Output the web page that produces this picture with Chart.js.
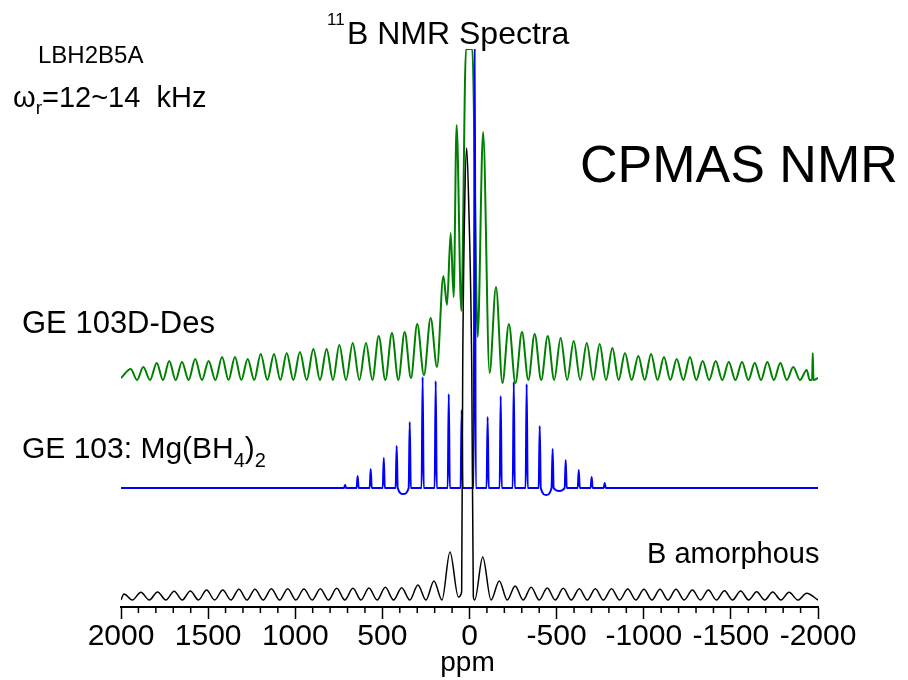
<!DOCTYPE html>
<html>
<head>
<meta charset="utf-8">
<script src="https://cdn.jsdelivr.net/npm/chart.js@4.4.1/dist/chart.umd.min.js"></script>
<style>
  body { margin: 0; background: #fff; }
</style>
</head>
<body>
<canvas id="grafico" width="908" height="680"></canvas>
<script>
// Fonte usada em todos os textos
const fonte = '"Liberation Sans", Arial, Helvetica, sans-serif';

// Eixo de deslocamento químico (ppm), invertido: 2000 à esquerda
const ppmEsquerda = 2000;
const ppmDireita = -2000;
const marcasPrincipais = [2000, 1500, 1000, 500, 0, -500, -1000, -1500, -2000];
const rotulosMarcas = ['2000', '1500', '1000', '500', '0', '-500', '-1000', '-1500', '-2000'];

// Intensidade: escala arbitrária, 0 na linha do eixo, 558 no topo (o que passa é cortado)
const intensidadeMax = 558;

///////////////////////////////////////////////////////////////////////////////
// B amorphous (preto) - bandas laterais largas
const pretoBase = 7;
const pretoPicosPpm = [1983, 1886, 1790, 1695, 1602, 1509, 1416, 1323, 1231, 1137, 1043,
  950, 856, 762, 669, 577, 483, 389, 296, 204, 112, 16, -76, -171, -262, -354, -446,
  -538, -630, -722, -815, -908, -1001, -1093, -1185, -1279, -1371, -1463, -1556, -1648,
  -1740, -1834, -1935];
const pretoPicosAltura = [6, 7.7, 8, 8.7, 9, 10, 10, 10.7, 10.7, 11.3, 11.3,
  11, 11.3, 11.7, 11.7, 12, 12.7, 12.3, 15, 19, 48, 452, 43, 19, 14, 12.7, 12,
  11.7, 11.3, 11.3, 11.3, 11, 10.7, 10.7, 10.7, 10, 10, 9.3, 9, 8.3,
  8, 7.7, 6.7];
// vales entre os picos (o primeiro e o último são as pontas do espectro)
const pretoVales = [0, 0, 0, 0, 0, 0, 0, 0, 0, 0, 0,
  0, 0, 0, 0, 0, 0, 0, 0, 0, 0, 3, 0, 0, 0, 0, 0,
  0, 0, 0, 0, 0, 0, 0, 0, 0, 0, 0, 0, 0,
  0, 0, 0, 0];
// flancos do pico central (estreito)
const pretoCentroPpm = [45, 39, 27, 5, -13, -22];
const pretoCentroAltura = [8, 230, 400, 400, 230, 3];

///////////////////////////////////////////////////////////////////////////////
// GE 103: Mg(BH4)2 (azul) - linhas finas
const azulBase = 119;
const azulPicosPpm = [714, 642, 567, 492, 418, 343, 269, 194, 119, 45, -30,
  -104, -179, -254, -328, -403, -477, -552, -627, -701, -776];
const azulPicosAltura = [3, 12, 19, 30, 42, 66, 111, 107, 94, 78, 460,
  71, 92, 106, 104, 62, 39, 28, 18, 11, 5];
const azulVales = [0, 0, 0, 0, 0, -6, 0, 0, 0, 0, 0,
  0, 0, 0, 0, 0, -7, -3, 0, 0, 0, 0];
const azulMeiaLargura = 6; // ppm

///////////////////////////////////////////////////////////////////////////////
// GE 103D-Des (verde) - pico central cortado no topo
const verdeBase = 227;
const verdePicosPpm = [1944, 1872, 1795, 1723, 1650, 1574, 1497, 1420, 1346, 1273,
  1198, 1122, 1049, 973, 896, 820, 747, 670, 594, 521, 445, 372, 300, 223,
  150, 108, 74, 20, -16, -78, -152, -226, -301, -374, -449, -523, -598, -673,
  -747, -820, -892, -969, -1042, -1116, -1189, -1265, -1338, -1413, -1488,
  -1564, -1637, -1709, -1784, -1858, -1935, -1970];
const verdePicosAltura = [11, 13, 17, 19, 18, 21, 19, 23, 23, 21,
  26, 26, 27, 28, 31, 31, 35, 37, 37, 44, 47, 48, 56, 62,
  104, 147, 255, 331, 331, 248, 93, 56, 48, 46, 44, 42, 39, 37,
  36, 32, 27, 24, 26, 23, 21, 23, 19, 19, 18,
  18, 17, 18, 17, 13, 10, 27];
const verdeVales = [2, 0, 0, 0, 0, 0, 0, 0, 0, 0,
  0, 0, 0, 0, 0, 0, 0, 0, 0, 0, 0, 0, 2, 5,
  13, 75, 83, 69, 331, 43, 7, -3, -3, 0, 0, 0, 0, 0,
  0, 0, 0, 0, 0, 0, 0, 0, 0, 0, 0,
  0, 0, 0, 0, 0, 0, 0, 2];
// base da espícula estreita na ponta direita
const verdeEspiculaPpm = [-1966, -1974];
const verdeEspiculaAltura = [0, 0];

///////////////////////////////////////////////////////////////////////////////

// monta a lista de pontos {x, y}: picos, vales entre picos e pontos extras
// (picos estreitos ganham dois pontos de base na linha base do espectro)
function montarEspectro(picosPpm, alturas, vales, base, meiaLargura, extrasPpm, extrasAltura) {
  const pontos = [{ x: ppmEsquerda, y: base + vales[0] }];
  for (let i = 0; i < picosPpm.length; i++) {
    const p = picosPpm[i];
    if (meiaLargura) pontos.push({ x: p + meiaLargura, y: base });
    pontos.push({ x: p, y: base + alturas[i] });
    if (meiaLargura) pontos.push({ x: p - meiaLargura, y: base });
    if (i < picosPpm.length - 1) {
      pontos.push({ x: (p + picosPpm[i + 1]) / 2, y: base + vales[i + 1] });
    }
  }
  pontos.push({ x: ppmDireita, y: base + vales[picosPpm.length] });
  (extrasPpm || []).forEach((p, k) => pontos.push({ x: p, y: base + extrasAltura[k] }));
  pontos.sort((a, b) => b.x - a.x);
  return pontos;
}

const pontosPreto = montarEspectro(pretoPicosPpm, pretoPicosAltura, pretoVales, pretoBase, 0,
  pretoCentroPpm, pretoCentroAltura);
const pontosAzul = montarEspectro(azulPicosPpm, azulPicosAltura, azulVales, azulBase, azulMeiaLargura);
const pontosVerde = montarEspectro(verdePicosPpm, verdePicosAltura, verdeVales, verdeBase, 0,
  verdeEspiculaPpm, verdeEspiculaAltura);

// marcas menores a cada 100 ppm
const marcasMenores = [];
for (let i = 0; i < marcasPrincipais.length - 1; i++) {
  for (let k = 1; k < 5; k++) marcasMenores.push(marcasPrincipais[i] - k * 100);
}

function escreve(ctx, texto, x, y, tamanho) {
  ctx.font = tamanho + 'px ' + fonte;
  ctx.fillText(texto, x, y);
  return x + ctx.measureText(texto).width;
}

// textos e marcas menores desenhados por cima do gráfico
const anotacoes = {
  id: 'anotacoes',
  afterDraw(chart) {
    const ctx = chart.ctx;
    const eixoX = chart.scales.x;
    const yLinha = chart.chartArea.bottom;
    ctx.save();
    ctx.strokeStyle = '#000';
    ctx.lineWidth = 1.5;
    marcasMenores.forEach(v => {
      const px = eixoX.getPixelForValue(v);
      ctx.beginPath();
      ctx.moveTo(px, yLinha);
      ctx.lineTo(px, yLinha + 6);
      ctx.stroke();
    });

    ctx.fillStyle = '#000';
    ctx.textBaseline = 'alphabetic';
    ctx.textAlign = 'left';

    // título com sobrescrito
    escreve(ctx, '11', 327, 25, 17);
    escreve(ctx, 'B NMR Spectra', 347, 44, 32);

    escreve(ctx, 'LBH2B5A', 38, 63, 24);
    let x = escreve(ctx, 'ω', 13, 107, 29);
    x = escreve(ctx, 'r', x, 114, 19);
    escreve(ctx, '=12~14  kHz', x, 107, 29);

    escreve(ctx, 'CPMAS NMR', 580, 182, 52);

    escreve(ctx, 'GE 103D-Des', 22, 333, 31);
    x = escreve(ctx, 'GE 103: Mg(BH', 22, 458, 30);
    x = escreve(ctx, '4', x, 467, 20);
    x = escreve(ctx, ')', x, 458, 30);
    escreve(ctx, '2', x, 467, 20);

    escreve(ctx, 'B amorphous', 647, 563, 29);

    ctx.textAlign = 'center';
    escreve(ctx, 'ppm', eixoX.getPixelForValue(0) - 2, 671, 28);
    ctx.restore();
  }
};

const ctx = document.getElementById('grafico').getContext('2d');

const grafico = new Chart(ctx, {
  type: 'line',
  data: {
    datasets: [
      {
        label: 'B amorphous',
        data: pontosPreto,
        borderColor: '#000000',
        borderWidth: 1.5
      },
      {
        label: 'GE 103: Mg(BH4)2',
        data: pontosAzul,
        borderColor: '#0000ff',
        borderWidth: 2
      },
      {
        label: 'GE 103D-Des',
        data: pontosVerde,
        borderColor: '#008000',
        borderWidth: 2
      }
    ]
  },
  options: {
    responsive: false,
    animation: false,
    devicePixelRatio: 1,
    datasets: {
      line: {
        pointRadius: 0,
        fill: false,
        cubicInterpolationMode: 'monotone'
      }
    },
    layout: { padding: { left: 121, right: 90, top: 49, bottom: 0 } },
    plugins: {
      legend: { display: false },
      tooltip: { enabled: false }
    },
    scales: {
      x: {
        type: 'linear',
        reverse: true,
        min: ppmDireita,
        max: ppmEsquerda,
        afterFit: (escala) => { escala.height = 73; },
        afterBuildTicks: (escala) => {
          escala.ticks = marcasPrincipais.map(v => ({ value: v }));
        },
        ticks: {
          autoSkip: false,
          maxRotation: 0,
          padding: 0,
          color: '#000',
          font: { family: fonte, size: 30 },
          callback: (valor) => rotulosMarcas[marcasPrincipais.indexOf(valor)]
        },
        grid: {
          drawOnChartArea: false,
          drawTicks: true,
          tickLength: 12,
          tickWidth: 1.5,
          tickColor: '#000'
        },
        border: { display: true, color: '#000', width: 2 }
      },
      y: {
        display: false,
        min: 0,
        max: intensidadeMax
      }
    }
  },
  plugins: [anotacoes]
});
</script>
</body>
</html>
